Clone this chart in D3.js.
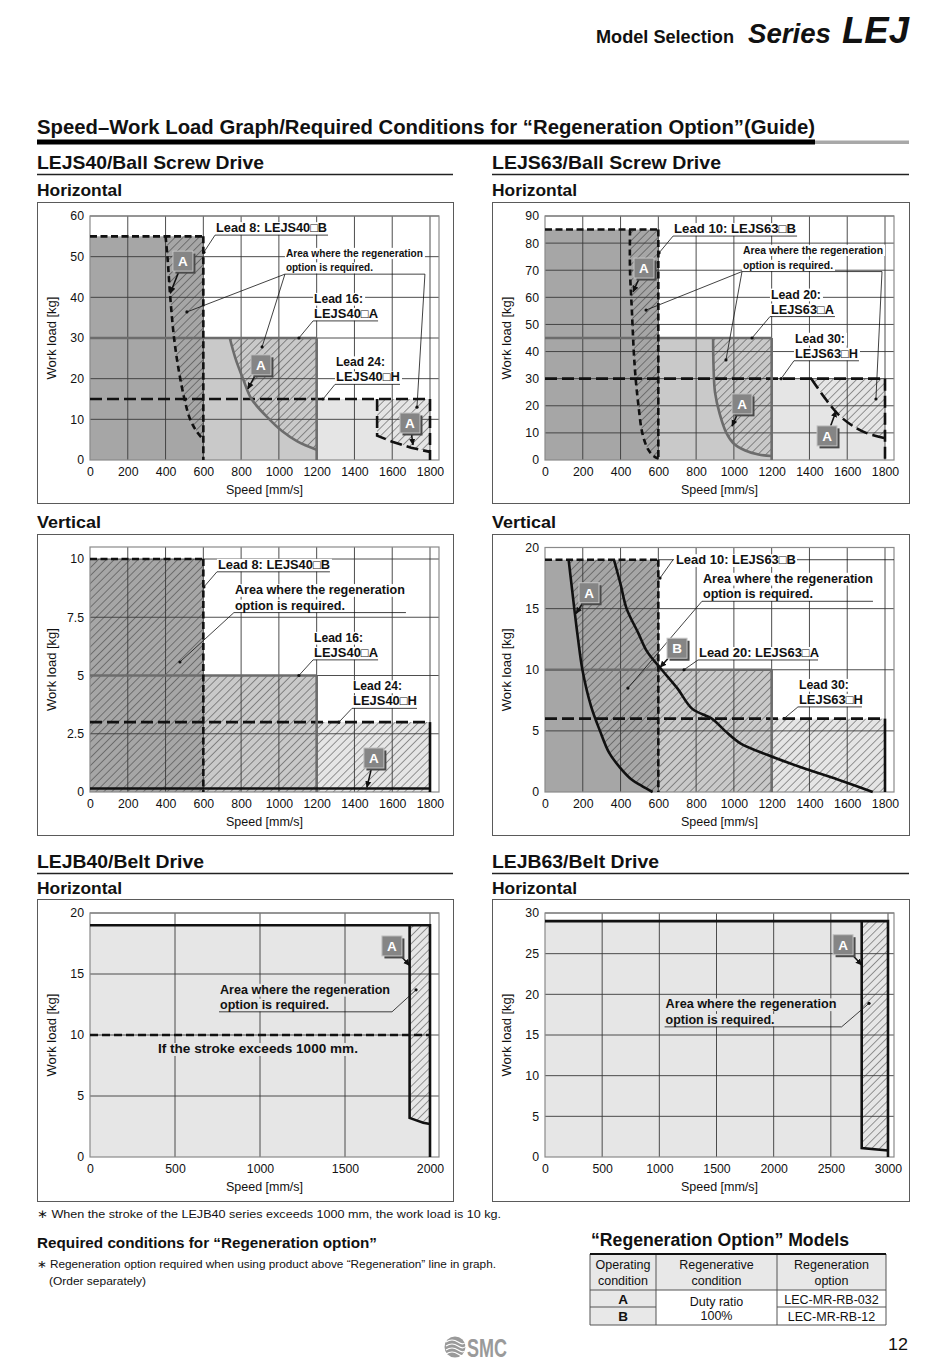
<!DOCTYPE html>
<html>
<head>
<meta charset="utf-8">
<title>Speed–Work Load Graph</title>
<script src="https://cdn.jsdelivr.net/npm/d3@7/dist/d3.min.js"></script>
<style>
html,body{margin:0;padding:0;background:#fff;}
svg{display:block;}
</style>
</head>
<body>
<svg id="page" width="950" height="1369"></svg>
<script>
// ================= DATA =================
// LEJS40 / Ball Screw Drive / Horizontal
const s40hLeads = ["Lead 8", "Lead 16", "Lead 24"];
const s40hSpeedMax = [600, 1200, 1800];
const s40hLoadMax = [55, 30, 15];
const s40hRegenLead8 = [[400,55],[410,50],[425,40],[445,30],[470,22],[500,15],[530,10],[565,7],[600,5]];
const s40hRegenLead16 = [[740,30],[770,25],[810,20],[855,15],[950,10],[1020,7],[1100,4.5],[1200,2.5]];
const s40hRegenLead24 = [[1520,15],[1520,6],[1600,4.5],[1700,3],[1800,2]];
const s40hXTicks = [0,200,400,600,800,1000,1200,1400,1600,1800];
const s40hYTicks = [0,10,20,30,40,50,60];

// LEJS63 / Ball Screw Drive / Horizontal
const s63hLeads = ["Lead 10", "Lead 20", "Lead 30"];
const s63hSpeedMax = [600, 1200, 1800];
const s63hLoadMax = [85, 45, 30];
const s63hRegenLead10 = [[450,85],[450,70],[460,55],[470,40],[480,30],[495,20],[515,10],[545,4],[575,1.5],[600,0.5]];
const s63hRegenLead20 = [[890,45],[892,35],[900,25],[925,17],[960,10],[1000,6],[1060,3.5],[1130,2],[1200,1.5]];
const s63hRegenLead30 = [[1410,30],[1480,23],[1550,17],[1620,13],[1700,10],[1800,8]];
const s63hXTicks = [0,200,400,600,800,1000,1200,1400,1600,1800];
const s63hYTicks = [0,10,20,30,40,50,60,70,80,90];

// LEJS40 / Ball Screw Drive / Vertical
const s40vSpeedMax = [600, 1200, 1800];
const s40vLoadMax = [10, 5, 3];
const s40vRegen = [[0,0.15],[1800,0.15]];
const s40vXTicks = [0,200,400,600,800,1000,1200,1400,1600,1800];
const s40vYTicks = [0,2.5,5,7.5,10];

// LEJS63 / Ball Screw Drive / Vertical
const s63vSpeedMax = [600, 1200, 1800];
const s63vLoadMax = [19, 10, 6];
const s63vRegenA = [[125,19],[140,17],[155,15],[175,12.5],[198,10],[244,7],[291,5],[340,3.2],[397,2],[460,1],[512,0.5],[570,0]];
const s63vRegenB = [[365,19],[400,17],[432,15],[494,13],[540,11.5],[618,10],[700,8.5],[780,6.8],[883,6],[953,5],[1032,4],[1183,3],[1359,2],[1553,1],[1735,0]];
const s63vXTicks = [0,200,400,600,800,1000,1200,1400,1600,1800];
const s63vYTicks = [0,5,10,15,20];

// LEJB40 / Belt Drive / Horizontal
const b40Limit = [[0,19],[2000,19],[2000,0]];
const b40Regen = [[1880,19],[1880,3.2],[1920,3],[1960,2.8],[2000,2.7]];
const b40LongStroke = [[0,10],[2000,10]];
const b40XTicks = [0,500,1000,1500,2000];
const b40YTicks = [0,5,10,15,20];

// LEJB63 / Belt Drive / Horizontal
const b63Limit = [[0,29],[3000,29],[3000,0]];
const b63Regen = [[2770,29],[2770,1.1],[3000,0.8]];
const b63XTicks = [0,500,1000,1500,2000,2500,3000];
const b63YTicks = [0,5,10,15,20,25,30];

// Regeneration option table
const tableHeader = [["Operating","condition"],["Regenerative","condition"],["Regeneration","option"]];
const tableConditions = ["A","B"];
const tableDuty = ["Duty ratio","100%"];
const tableOptions = ["LEC-MR-RB-032","LEC-MR-RB-12"];

// ================= STYLE =================
const FONT = '"Liberation Sans", Arial, Helvetica, sans-serif';
const FILL = {dark:"#a6a6a6", mid:"#c9c9c9", light:"#e5e5e5", belt:"#e6e6e6"};
const ST = {
  dashS:{c:"#111",w:2.6,d:"7,3.5"},
  dashL:{c:"#111",w:2.6,d:"12,5"},
  dashC:{c:"#111",w:2.6,d:"6,4"},
  dashM:{c:"#111",w:2.4,d:"8,4"},
  gray:{c:"#6c6c6c",w:2.6,d:null},
  black:{c:"#111",w:2.6,d:null}
};

const page = d3.select("#page").attr("font-family", FONT);
const defs = page.append("defs");
const pat = defs.append("pattern").attr("id","hatch").attr("patternUnits","userSpaceOnUse")
  .attr("width",5.6).attr("height",5.6).attr("patternTransform","rotate(45)");
pat.append("line").attr("x1",0).attr("y1",0).attr("x2",0).attr("y2",5.6)
  .attr("stroke","#2a2a2a").attr("stroke-width",0.9);
defs.append("marker").attr("id","arrow").attr("viewBox","0 0 10 10").attr("refX",9).attr("refY",5)
  .attr("markerWidth",4.5).attr("markerHeight",4.5).attr("orient","auto")
  .append("path").attr("d","M0,0.5 L10,5 L0,9.5 z").attr("fill","#111");

function txt(parent, s, x, y, o = {}) {
  const t = parent.append("text").attr("x", x).attr("y", y).text(s)
    .attr("font-size", o.size || 12).attr("fill", o.fill || "#111");
  if (o.bold) t.attr("font-weight", "bold");
  if (o.italic) t.attr("font-style", "italic");
  if (o.anchor) t.attr("text-anchor", o.anchor);
  if (o.len) t.attr("textLength", o.len).attr("lengthAdjust", "spacingAndGlyphs");
  return t;
}

// ---------- chart scaffold ----------
function makeChart(cfg) {
  const [bx, by, bw, bh] = cfg.box;
  const g = page.append("g");
  g.append("rect").attr("x", bx + 0.5).attr("y", by + 0.5).attr("width", bw).attr("height", bh)
    .attr("fill", "#fff").attr("stroke", "#5a5a5a").attr("stroke-width", 1);
  const x = d3.scaleLinear().domain([0, cfg.xMax]).range([bx + 53, bx + 53 + cfg.xSpan]);
  const y = d3.scaleLinear().domain([0, cfg.yMax]).range([by + 258, by + cfg.yTop]);
  const frameR = bx + 402;
  const frameT = by + (cfg.frameTop != null ? cfg.frameTop : cfg.yTop);
  const L = {};
  ["fill", "hatch", "grid", "frame", "lines", "anno"].forEach(k => L[k] = g.append("g"));
  cfg.xTicks.filter(v => v > 0).forEach(v => {
    L.grid.append("line").attr("x1", x(v)).attr("x2", x(v)).attr("y1", y(0)).attr("y2", frameT)
      .attr("stroke", "#3a3a3a").attr("stroke-width", 0.9);
  });
  cfg.yTicks.filter(v => v > 0).forEach(v => {
    L.grid.append("line").attr("x1", x(0)).attr("x2", frameR).attr("y1", y(v)).attr("y2", y(v))
      .attr("stroke", "#3a3a3a").attr("stroke-width", 0.9);
  });
  L.frame.append("rect").attr("x", x(0)).attr("y", frameT).attr("width", frameR - x(0))
    .attr("height", y(0) - frameT).attr("fill", "none").attr("stroke", "#8a8a8a").attr("stroke-width", 1.2);
  const ax = g.append("g").attr("transform", `translate(0,${y(0)})`)
    .call(d3.axisBottom(x).tickValues(cfg.xTicks).tickSize(0).tickPadding(7.5).tickFormat(d => String(d)));
  ax.select(".domain").remove();
  ax.attr("font-family", FONT).attr("font-size", 12.3).attr("color", "#111");
  const ay = g.append("g").attr("transform", `translate(${x(0)},0)`)
    .call(d3.axisLeft(y).tickValues(cfg.yTicks).tickSize(0).tickPadding(6).tickFormat(d => String(d)));
  ay.select(".domain").remove();
  ay.attr("font-family", FONT).attr("font-size", 12.3).attr("color", "#111");
  txt(g, "Speed [mm/s]", (x(0) + frameR) / 2, y(0) + 34, {size: 12.5, anchor: "middle"});
  txt(g, "Work load [kg]", 0, 0, {size: 13, anchor: "middle"})
    .attr("transform", `translate(${bx + 18.5},${(frameT + y(0)) / 2}) rotate(-90)`);
  return {g, x, y, L, frameR, frameT, bg: cfg.bg || "#fff"};
}

function pathOf(c, pts, smooth) {
  const gen = d3.line().x(d => c.x(d[0])).y(d => c.y(d[1]));
  if (smooth) gen.curve(d3.curveCatmullRom.alpha(0.5));
  return gen(pts);
}
function stroke(c, pts, st, smooth) {
  const p = c.L.lines.append("path").attr("d", pathOf(c, pts, smooth)).attr("fill", "none")
    .attr("stroke", st.c).attr("stroke-width", st.w).attr("stroke-linejoin", "miter");
  if (st.d) p.attr("stroke-dasharray", st.d);
  return p;
}
function regions(c, speeds, loads, fills) {
  for (let i = speeds.length - 1; i >= 0; i--) {
    c.L.fill.append("rect").attr("x", c.x(0)).attr("y", c.y(loads[i]))
      .attr("width", c.x(speeds[i]) - c.x(0)).attr("height", c.y(0) - c.y(loads[i])).attr("fill", fills[i]);
  }
}
function hatchCurve(c, pts, smooth) {
  const last = pts[pts.length - 1], first = pts[0];
  const d = pathOf(c, pts, smooth) + `L${c.x(last[0])},${c.y(first[1])}Z`;
  c.L.hatch.append("path").attr("d", d).attr("fill", "url(#hatch)");
}
function hatchPoly(c, pts, smooth) {
  c.L.hatch.append("path").attr("d", pathOf(c, pts, smooth) + "Z").attr("fill", "url(#hatch)");
}
function stepOutline(speeds, loads) {
  const pts = [[speeds[speeds.length - 1], 0]];
  for (let i = speeds.length - 1; i >= 0; i--) {
    pts.push([speeds[i], loads[i]]);
    pts.push([i > 0 ? speeds[i - 1] : 0, loads[i]]);
  }
  return pts;
}
function leadLimit(c, speed, load, topSt, sideSt) {
  stroke(c, [[0, load], [speed, load]], topSt);
  stroke(c, [[speed, load], [speed, 0]], sideSt || topSt);
}

function annotate(c, a) {
  const g = c.L.anno, fs = a.size || 12.5, gap = a.gap || 15;
  const ux = c.x(a.at[0]), uy = c.y(a.at[1]);
  const n = a.lines.length;
  a.lines.forEach((t, i) => {
    const base = a.mid ? uy + fs * 0.36 : uy - 3 - (n - 1 - i) * gap;
    const w = a.lens[i];
    g.append("rect").attr("x", ux - (a.mid ? 1 : 0)).attr("y", base - fs * 0.8).attr("width", w + 3)
      .attr("height", fs * 1.02).attr("fill", a.bg || c.bg);
    txt(g, t, ux + 1, base, {size: fs, bold: true, len: w});
  });
  if (a.mid) {
    g.insert("line", ":first-child").attr("x1", c.x(a.lineFrom)).attr("x2", c.frameR)
      .attr("y1", uy).attr("y2", uy).attr("stroke", "#111").attr("stroke-width", 0.8);
  } else {
    g.append("line").attr("x1", ux).attr("x2", ux + a.uw).attr("y1", uy).attr("y2", uy)
      .attr("stroke", "#111").attr("stroke-width", 0.8);
  }
  a.leaders.forEach(l => {
    const sx = l.from ? c.x(l.from[0]) : (l.end === "right" ? ux + a.uw : ux);
    const sy = l.from ? c.y(l.from[1]) : uy;
    const tx = c.x(l.to[0]), ty = c.y(l.to[1]);
    g.append("line").attr("x1", sx).attr("y1", sy).attr("x2", tx).attr("y2", ty)
      .attr("stroke", "#111").attr("stroke-width", 0.8);
    g.append("circle").attr("cx", tx).attr("cy", ty).attr("r", 1.6).attr("fill", "#111");
  });
}

function marker(c, letter, at, to) {
  const g = c.L.anno, hw = 10, hh = 10;
  const cx = c.x(at[0]), cy = c.y(at[1]), tx = c.x(to[0]), ty = c.y(to[1]);
  const dx = tx - cx, dy = ty - cy;
  const t = Math.min(hw / Math.max(Math.abs(dx), 1e-6), hh / Math.max(Math.abs(dy), 1e-6));
  g.append("line").attr("x1", cx + dx * t).attr("y1", cy + dy * t).attr("x2", tx).attr("y2", ty)
    .attr("stroke", "#111").attr("stroke-width", 1.5).attr("marker-end", "url(#arrow)");
  g.append("rect").attr("x", cx - hw + 2.5).attr("y", cy - hh + 2.5).attr("width", 2 * hw).attr("height", 2 * hh)
    .attr("fill", "#4a4a4a");
  g.append("rect").attr("x", cx - hw).attr("y", cy - hh).attr("width", 2 * hw).attr("height", 2 * hh)
    .attr("fill", "#858585").attr("stroke", "#c4c4c4").attr("stroke-width", 1);
  txt(g, letter, cx, cy + 4.8, {size: 13.5, bold: true, anchor: "middle", fill: "#fff"});
}

// ================= PAGE HEADER =================
txt(page, "Model Selection", 596, 43, {size: 17.5, bold: true, len: 138});
txt(page, "Series", 748, 43, {size: 27, bold: true, italic: true, len: 83});
txt(page, "LEJ", 842, 43, {size: 36, bold: true, italic: true, len: 67});
txt(page, "Speed–Work Load Graph/Required Conditions for “Regeneration Option”(Guide)", 37, 134,
  {size: 19.5, bold: true, len: 778});
page.append("rect").attr("x", 37).attr("y", 139.5).attr("width", 778).attr("height", 5).attr("fill", "#000");
page.append("rect").attr("x", 815).attr("y", 140.5).attr("width", 94).attr("height", 3.5).attr("fill", "#a8a8a8");

function sectionHead(x, label, len, base, right) {
  txt(page, label, x, base, {size: 18.5, bold: true, len: len});
  page.append("line").attr("x1", x).attr("x2", right).attr("y1", base + 5.5).attr("y2", base + 5.5)
    .attr("stroke", "#222").attr("stroke-width", 1.3);
}
sectionHead(37, "LEJS40/Ball Screw Drive", 227, 169, 453);
sectionHead(492, "LEJS63/Ball Screw Drive", 229, 169, 909);
sectionHead(37, "LEJB40/Belt Drive", 167, 868, 453);
sectionHead(492, "LEJB63/Belt Drive", 167, 868, 909);
txt(page, "Horizontal", 37, 196, {size: 16.5, bold: true, len: 85});
txt(page, "Horizontal", 492, 196, {size: 16.5, bold: true, len: 85});
txt(page, "Vertical", 37, 528, {size: 16.5, bold: true, len: 64});
txt(page, "Vertical", 492, 528, {size: 16.5, bold: true, len: 64});
txt(page, "Horizontal", 37, 894, {size: 16.5, bold: true, len: 85});
txt(page, "Horizontal", 492, 894, {size: 16.5, bold: true, len: 85});

// ================= LEJS40 HORIZONTAL =================
{
  const c = makeChart({box: [37, 202, 416, 301], xMax: 1800, xSpan: 340, yMax: 60, yTop: 14,
    xTicks: s40hXTicks, yTicks: s40hYTicks});
  regions(c, s40hSpeedMax, s40hLoadMax, [FILL.dark, FILL.mid, FILL.light]);
  hatchCurve(c, s40hRegenLead8, true);
  hatchCurve(c, s40hRegenLead16, true);
  hatchCurve(c, s40hRegenLead24, false);
  leadLimit(c, s40hSpeedMax[2], s40hLoadMax[2], ST.dashL);
  leadLimit(c, s40hSpeedMax[1], s40hLoadMax[1], ST.gray);
  leadLimit(c, s40hSpeedMax[0], s40hLoadMax[0], ST.dashS);
  stroke(c, s40hRegenLead8, ST.dashC, true);
  stroke(c, s40hRegenLead16, ST.gray, true);
  stroke(c, s40hRegenLead24, ST.dashL, false);
  annotate(c, {lines: [s40hLeads[0] + ": LEJS40□B"], lens: [111], at: [662, 55.3], uw: 113,
    leaders: [{end: "left", to: [603, 51.1]}]});
  annotate(c, {lines: ["Area where the regeneration", "option is required."], lens: [137, 87], size: 11,
    gap: 14.5, at: [1032, 45.7], uw: 140,
    leaders: [{end: "left", to: [513, 36.4]}, {end: "left", to: [911, 27.8]}, {end: "right", to: [1731, 13]}]});
  annotate(c, {lines: [s40hLeads[1] + ":", "LEJS40□A"], lens: [49, 64], at: [1181, 34.2], uw: 65,
    leaders: [{end: "left", to: [1106, 30]}]});
  annotate(c, {lines: [s40hLeads[2] + ":", "LEJS40□H"], lens: [49, 64], at: [1297, 18.6], uw: 65,
    leaders: [{end: "left", to: [1234, 15]}]});
  marker(c, "A", [492, 48.9], [425, 41]);
  marker(c, "A", [905, 23.4], [836, 17.5]);
  marker(c, "A", [1694, 9.1], [1710, 3.7]);
}

// ================= LEJS63 HORIZONTAL =================
{
  const c = makeChart({box: [492, 202, 417, 301], xMax: 1800, xSpan: 340, yMax: 90, yTop: 14,
    xTicks: s63hXTicks, yTicks: s63hYTicks});
  regions(c, s63hSpeedMax, s63hLoadMax, [FILL.dark, FILL.mid, FILL.light]);
  hatchCurve(c, s63hRegenLead10, true);
  hatchCurve(c, s63hRegenLead20, true);
  hatchCurve(c, s63hRegenLead30, true);
  leadLimit(c, s63hSpeedMax[2], s63hLoadMax[2], ST.dashL);
  leadLimit(c, s63hSpeedMax[1], s63hLoadMax[1], ST.gray);
  leadLimit(c, s63hSpeedMax[0], s63hLoadMax[0], ST.dashS);
  stroke(c, s63hRegenLead10, ST.dashC, true);
  stroke(c, s63hRegenLead20, ST.gray, true);
  stroke(c, s63hRegenLead30, ST.dashL, true);
  annotate(c, {lines: [s63hLeads[0] + ":  LEJS63□B"], lens: [122], at: [678, 82.6], uw: 124,
    leaders: [{end: "left", to: [604, 76.4]}]});
  annotate(c, {lines: ["Area where the regeneration", "option is required."], lens: [140, 90], size: 11,
    gap: 15, at: [1043, 69.5], uw: 140,
    leaders: [{end: "left", to: [535, 55.3]}, {end: "left", to: [958, 36.9]}, {end: "right", to: [1752, 22.5]}]});
  annotate(c, {lines: [s63hLeads[1] + ":", "LEJS63□A"], lens: [50, 63], at: [1191, 52.9], uw: 65,
    leaders: [{end: "left", to: [1096, 45]}]});
  annotate(c, {lines: [s63hLeads[2] + ":", "LEJS63□H"], lens: [50, 63], at: [1318, 36.6], uw: 65,
    leaders: [{end: "left", to: [1250, 30]}]});
  marker(c, "A", [524, 70.8], [466, 62]);
  marker(c, "A", [1043, 20.7], [990, 12.5]);
  marker(c, "A", [1493, 8.9], [1541, 18.1]);
}

// ================= LEJS40 VERTICAL =================
{
  const c = makeChart({box: [37, 534, 416, 301], xMax: 1800, xSpan: 340, yMax: 10, yTop: 25, frameTop: 13,
    xTicks: s40vXTicks, yTicks: s40vYTicks});
  regions(c, s40vSpeedMax, s40vLoadMax, [FILL.dark, FILL.mid, FILL.light]);
  hatchPoly(c, [[0, 0]].concat(stepOutline(s40vSpeedMax, s40vLoadMax)));
  stroke(c, [[0, s40vLoadMax[2]], [s40vSpeedMax[2], s40vLoadMax[2]]], ST.dashL);
  stroke(c, [[s40vSpeedMax[2], s40vLoadMax[2]], [s40vSpeedMax[2], 0]], ST.black);
  leadLimit(c, s40vSpeedMax[1], s40vLoadMax[1], ST.gray);
  leadLimit(c, s40vSpeedMax[0], s40vLoadMax[0], ST.dashS);
  stroke(c, s40vRegen, ST.black);
  annotate(c, {lines: ["Lead 8: LEJS40□B"], lens: [112], at: [672, 9.45], uw: 113,
    leaders: [{end: "left", to: [603, 8.8]}]});
  annotate(c, {lines: ["Area where the regeneration", "option is required."], lens: [170, 110], size: 12.5,
    gap: 15.5, at: [762, 7.7], uw: 172, leaders: [{end: "left", to: [476, 5.58]}]});
  annotate(c, {lines: ["Lead 16:", "LEJS40□A"], lens: [49, 64], at: [1181, 5.67], uw: 65,
    leaders: [{end: "left", to: [1106, 5]}]});
  annotate(c, {lines: ["Lead 24:", "LEJS40□H"], lens: [49, 64], at: [1387, 3.59], uw: 65,
    leaders: [{end: "left", to: [1318, 3]}]});
  marker(c, "A", [1503, 1.46], [1466, 0.2]);
}

// ================= LEJS63 VERTICAL =================
{
  const c = makeChart({box: [492, 534, 417, 301], xMax: 1800, xSpan: 340, yMax: 20, yTop: 13.5,
    xTicks: s63vXTicks, yTicks: s63vYTicks});
  regions(c, s63vSpeedMax, s63vLoadMax, [FILL.dark, FILL.mid, FILL.light]);
  const outline = stepOutline(s63vSpeedMax, s63vLoadMax);
  outline.pop();
  hatchPoly(c, s63vRegenA.concat(outline));
  stroke(c, [[0, s63vLoadMax[2]], [s63vSpeedMax[2], s63vLoadMax[2]]], ST.dashL);
  stroke(c, [[s63vSpeedMax[2], s63vLoadMax[2]], [s63vSpeedMax[2], 0]], ST.black);
  leadLimit(c, s63vSpeedMax[1], s63vLoadMax[1], ST.gray);
  leadLimit(c, s63vSpeedMax[0], s63vLoadMax[0], ST.dashS);
  stroke(c, s63vRegenA, ST.black, true);
  stroke(c, s63vRegenB, ST.black, true);
  annotate(c, {lines: ["Lead 10: LEJS63□B"], lens: [120], at: [688, 19], mid: true, lineFrom: 600,
    leaders: [{from: [678, 19], to: [609, 17.5]}]});
  annotate(c, {lines: ["Area where the regeneration", "option is required."], lens: [170, 110], size: 12.5,
    gap: 15.5, at: [831, 15.6], uw: 171, leaders: [{end: "left", to: [439, 8.5]}]});
  annotate(c, {lines: ["Lead 20: LEJS63□A"], lens: [120], at: [810, 10.8], uw: 120,
    leaders: [{end: "left", to: [736, 10]}]});
  annotate(c, {lines: ["Lead 30:", "LEJS63□H"], lens: [50, 64], at: [1339, 6.96], uw: 64,
    leaders: [{end: "left", to: [1265, 6]}]});
  marker(c, "A", [233, 16.3], [165, 14.6]);
  marker(c, "B", [699, 11.76], [610, 10.2]);
}

// ================= LEJB40 BELT =================
{
  const c = makeChart({box: [37, 899, 416, 302], xMax: 2000, xSpan: 340, yMax: 20, yTop: 14,
    xTicks: b40XTicks, yTicks: b40YTicks, bg: FILL.belt});
  regions(c, [b40Limit[1][0]], [b40Limit[0][1]], [FILL.belt]);
  hatchCurve(c, b40Regen, false);
  stroke(c, b40LongStroke, ST.dashM);
  stroke(c, b40Limit, ST.black);
  stroke(c, b40Regen, ST.black);
  annotate(c, {lines: ["Area where the regeneration", "option is required."], lens: [170, 109], size: 12.5,
    gap: 15, at: [759, 11.9], uw: 173, leaders: [{end: "right", to: [1918, 13.7]}]});
  const lx = c.x(988), ly = c.y(b40LongStroke[0][1]) + 18;
  c.L.anno.append("rect").attr("x", lx - 101).attr("y", ly - 10).attr("width", 202).attr("height", 13)
    .attr("fill", FILL.belt);
  txt(c.L.anno, "If the stroke exceeds 1000 mm.", lx, ly, {size: 12.5, bold: true, anchor: "middle", len: 200});
  marker(c, "A", [1776, 17.3], [1880, 15.7]);
}

// ================= LEJB63 BELT =================
{
  const c = makeChart({box: [492, 899, 417, 302], xMax: 3000, xSpan: 343, yMax: 30, yTop: 14,
    xTicks: b63XTicks, yTicks: b63YTicks, bg: FILL.belt});
  regions(c, [b63Limit[1][0]], [b63Limit[0][1]], [FILL.belt]);
  hatchCurve(c, b63Regen, false);
  stroke(c, b63Limit, ST.black);
  stroke(c, b63Regen, ST.black);
  annotate(c, {lines: ["Area where the regeneration", "option is required."], lens: [171, 109], size: 12.5,
    gap: 15.5, at: [1046, 16.0], uw: 177, leaders: [{end: "right", to: [2834, 18.9]}]});
  marker(c, "A", [2607, 26.1], [2770, 23.6]);
}

// ================= FOOTNOTES =================
txt(page, "∗ When the stroke of the LEJB40 series exceeds 1000 mm, the work load is 10 kg.", 37, 1218,
  {size: 11.5, len: 464});
txt(page, "Required conditions for “Regeneration option”", 37, 1248, {size: 14.5, bold: true, len: 340});
txt(page, "∗ Regeneration option required when using product above “Regeneration” line in graph.", 37, 1268,
  {size: 11, len: 459});
txt(page, "(Order separately)", 49, 1285, {size: 11, len: 97});

// ================= TABLE =================
{
  const g = page.append("g");
  const cols = [590, 656, 777, 886];
  const top = 1254, hBot = 1290, rMid = 1307, bot = 1325;
  txt(g, "“Regeneration Option” Models", 591, 1246, {size: 17.5, bold: true, len: 258});
  g.append("rect").attr("x", cols[0]).attr("y", top).attr("width", cols[3] - cols[0]).attr("height", hBot - top)
    .attr("fill", "#e8e8e8");
  g.append("rect").attr("x", cols[0]).attr("y", hBot).attr("width", cols[1] - cols[0]).attr("height", bot - hBot)
    .attr("fill", "#e8e8e8");
  const ln = (x1, y1, x2, y2, w, col) => g.append("line").attr("x1", x1).attr("y1", y1).attr("x2", x2).attr("y2", y2)
    .attr("stroke", col || "#555").attr("stroke-width", w || 1);
  cols.forEach(cx => ln(cx, top, cx, bot));
  ln(cols[0], hBot, cols[3], hBot);
  ln(cols[0], rMid, cols[1], rMid);
  ln(cols[2], rMid, cols[3], rMid);
  ln(cols[0], bot, cols[3], bot);
  ln(cols[0], top, cols[3], top, 2.2, "#111");
  tableHeader.forEach((h, i) => {
    const cx = (cols[i] + cols[i + 1]) / 2;
    txt(g, h[0], cx, 1268.5, {size: 12.5, anchor: "middle"});
    txt(g, h[1], cx, 1284.5, {size: 12.5, anchor: "middle"});
  });
  tableConditions.forEach((k, i) => {
    txt(g, k, (cols[0] + cols[1]) / 2, 1303.5 + i * 17, {size: 13.5, bold: true, anchor: "middle"});
    txt(g, tableOptions[i], (cols[2] + cols[3]) / 2, 1303.5 + i * 17, {size: 12.5, anchor: "middle"});
  });
  txt(g, tableDuty[0], (cols[1] + cols[2]) / 2, 1305.5, {size: 12.5, anchor: "middle"});
  txt(g, tableDuty[1], (cols[1] + cols[2]) / 2, 1320, {size: 12.5, anchor: "middle"});
}

// ================= PAGE FOOTER =================
txt(page, "12", 888, 1350, {size: 17, len: 20});
{
  const g = page.append("g");
  g.append("circle").attr("cx", 455).attr("cy", 1347).attr("r", 10.5).attr("fill", "#9a9a9a");
  [-5, -1, 3, 7].forEach(o => {
    g.append("path").attr("d", `M446,${1347 + o} Q452,${1343 + o} 458,${1347 + o} T467,${1346 + o}`)
      .attr("fill", "none").attr("stroke", "#fff").attr("stroke-width", 1.2);
  });
  txt(g, "SMC", 467, 1357, {size: 25, bold: true, fill: "#9a9a9a", len: 40});
}
</script>
</body>
</html>
